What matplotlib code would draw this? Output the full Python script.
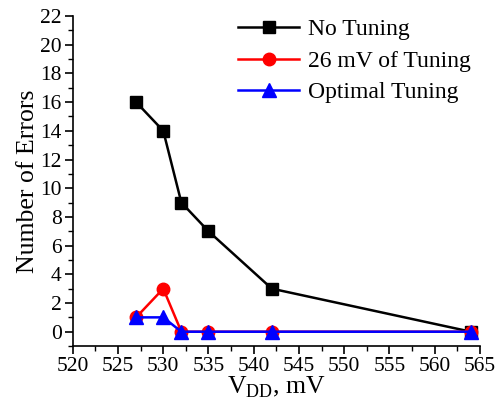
import numpy as np
import matplotlib.pyplot as plt
from matplotlib.ticker import MultipleLocator

plt.rcParams['font.family'] = ['Liberation Serif', 'DejaVu Serif']
plt.rcParams['mathtext.fontset'] = 'custom'
plt.rcParams['mathtext.rm'] = 'Liberation Serif'

vdd = [527, 530, 532, 535, 542, 564]
no_tuning = [16, 14, 9, 7, 3, 0]
tuning_26mv = [1, 3, 0, 0, 0, 0]
optimal = [1, 1, 0, 0, 0, 0]

fig = plt.figure(figsize=(5.02, 4.01), dpi=100)
ax = fig.add_axes([0.145, 0.137, 0.811, 0.823])

ax.plot(vdd, no_tuning, '-s', color='black', lw=1.8, ms=9, label='No Tuning')
ax.plot(vdd, tuning_26mv, '-o', color='red', lw=1.8, ms=9, label='26 mV of Tuning')
ax.plot(vdd, optimal, '-^', color='blue', lw=1.8, ms=10, label='Optimal Tuning')

ax.set_xlim(520, 565)
ax.set_ylim(-1, 22)
ax.xaxis.set_major_locator(MultipleLocator(5))
ax.xaxis.set_minor_locator(MultipleLocator(2.5))
ax.yaxis.set_major_locator(MultipleLocator(2))
ax.yaxis.set_minor_locator(MultipleLocator(1))
ax.spines['top'].set_visible(False)
ax.spines['right'].set_visible(False)
ax.spines['left'].set_linewidth(1.2)
ax.spines['bottom'].set_linewidth(1.2)
ax.tick_params(which='major', length=6, width=1.2, labelsize=15.5, pad=2)
ax.tick_params(which='minor', length=3.5, width=1.0)

ax.set_ylabel('Number of Errors', fontsize=18.5, labelpad=1)
ax.set_xlabel(r'V$_{\mathrm{DD}}$, mV', fontsize=18.5, labelpad=-1)

ax.legend(loc='upper right', bbox_to_anchor=(1.0, 1.02), frameon=False,
          fontsize=17, handlelength=2.6, handletextpad=0.35,
          labelspacing=0.42, borderaxespad=0.0)

fig.savefig('out.png', dpi=100)
